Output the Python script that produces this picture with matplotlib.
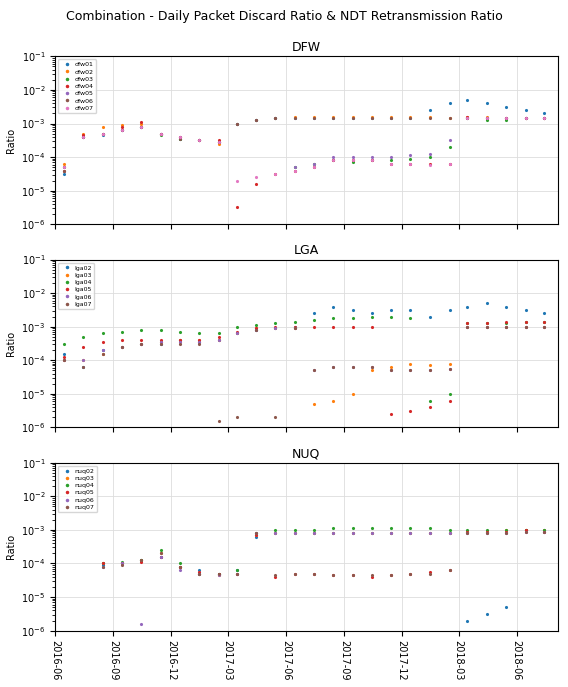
import numpy as np
import matplotlib.pyplot as plt
import matplotlib.dates as mdates
import datetime as dt

# one reading per month, Jun 2016 .. Aug 2018, stored as log10(ratio)
months = [dt.date(2016 + (5 + i) // 12, (5 + i) % 12 + 1, 15) for i in range(27)]
nan = np.nan

dfw01 = [-4.5,-3.4,-3.35,-3.2,-3.1,-3.3,-3.45,-3.5,-3.55,-3.0,-2.9,-2.85,-2.85,-2.85,-2.85,-2.85,-2.85,-2.85,-2.85,-2.6,-2.4,-2.3,-2.4,-2.5,-2.6,-2.7,-2.8]
dfw02 = [-4.2,-3.3,-3.1,-3.05,-3.0,-3.3,-3.4,-3.5,-3.6,-3.0,-2.9,-2.85,-2.8,-2.8,-2.8,-2.8,-2.8,-2.8,-2.8,-2.8,-2.85,-2.8,-2.8,-2.85,-2.85,-2.85,-2.85]
dfw03 = [-4.3,-3.4,-3.3,-3.2,-3.1,-3.35,-3.45,-3.5,-3.55,-3.0,-2.9,-2.85,-4.3,-4.2,-4.1,-4.15,-4.1,-4.1,-4.05,-4.0,-3.7,-2.85,-2.9,-2.9,-2.85,-2.85,-2.85]
dfw04 = [-4.4,-3.35,-3.3,-3.1,-2.95,-3.3,-3.4,-3.5,-3.5,-5.5,-4.8,-4.5,-4.4,-4.3,-4.1,-4.1,-4.1,-4.2,-4.2,-4.2,-4.2,-2.8,-2.85,-2.85,-2.85,-2.85,-2.85]
dfw05 = [-4.3,-3.4,-3.3,-3.2,-3.1,-3.3,-3.4,-3.5,-3.55,-3.0,-2.9,-2.85,-4.3,-4.2,-4.0,-4.0,-4.0,-4.0,-3.95,-3.9,-3.5,-2.85,-2.85,-2.85,-2.85,-2.85,-2.85]
dfw06 = [-4.4,-3.4,-3.3,-3.2,-3.1,-3.3,-3.45,-3.5,-3.55,-3.0,-2.9,-2.85,-2.85,-2.85,-2.85,-2.85,-2.85,-2.85,-2.85,-2.85,-2.85,-2.85,-2.85,-2.85,-2.85,-2.85,-2.8]
dfw07 = [-4.3,-3.4,-3.3,-3.2,-3.1,-3.3,-3.4,-3.5,-3.55,-4.7,-4.6,-4.5,-4.4,-4.3,-4.1,-4.1,-4.1,-4.2,-4.2,-4.25,-4.2,-2.85,-2.85,-2.85,-2.85,-2.85,-2.85]

lga02 = [-3.8,-4.2,-3.7,-3.6,-3.5,-3.5,-3.4,-3.45,-3.4,-3.2,-3.1,-3.05,-3.0,-2.6,-2.4,-2.5,-2.6,-2.5,-2.5,-2.7,-2.5,-2.4,-2.3,-2.4,-2.5,-2.6,-2.7]
lga03 = [-4.0,-4.0,-3.8,-3.6,-3.5,-3.45,-3.4,-3.4,-3.4,-3.2,-3.05,-3.05,-3.05,-5.3,-5.2,-5.0,-4.3,-4.2,-4.1,-4.15,-4.1,-3.0,-3.0,-3.0,-3.0,-3.0,-3.0]
lga04 = [-3.5,-3.3,-3.2,-3.15,-3.1,-3.1,-3.15,-3.2,-3.2,-3.0,-2.95,-2.9,-2.85,-2.8,-2.75,-2.75,-2.7,-2.7,-2.75,-5.2,-5.0,-2.9,-2.9,-2.9,-2.85,-2.85,-2.9]
lga05 = [-3.9,-3.6,-3.45,-3.4,-3.4,-3.4,-3.4,-3.4,-3.3,-3.15,-3.05,-3.0,-3.0,-3.0,-3.0,-3.0,-3.0,-5.6,-5.5,-5.4,-5.2,-2.9,-2.9,-2.85,-2.85,-2.85,-2.85]
lga06 = [-4.0,-4.0,-3.7,-3.6,-3.5,-3.45,-3.45,-3.45,-3.4,-3.2,-3.1,-3.05,-3.05,-4.3,-4.2,-4.2,-4.2,-4.3,-4.3,-4.3,-4.25,-3.0,-3.0,-3.0,-3.0,-3.0,-3.0]
lga07 = [-4.0,-4.2,-3.8,-3.6,-3.5,-3.5,-3.5,-3.5,-5.8,-5.7,-3.1,-5.7,-3.05,-4.3,-4.2,-4.2,-4.2,-4.3,-4.3,-4.3,-4.25,-3.0,-3.0,-3.0,-3.0,-3.0,-3.0]

nuq02 = [nan,nan,-4.05,-4.0,-3.9,-3.8,-4.1,-4.2,-4.3,-4.2,-3.2,-3.1,-3.1,-3.1,-3.1,-3.1,-3.1,-3.1,-3.1,-3.1,-3.1,-5.7,-5.5,-5.3,-3.0,-3.0,-3.2]
nuq03 = [nan,nan,-4.0,-4.0,-3.9,-3.7,-4.1,-4.3,-4.35,-4.3,-3.15,-3.1,-3.1,-3.1,-3.1,-3.1,-3.1,-3.1,-3.1,-3.1,-3.1,-3.05,-3.05,-3.0,-3.0,-3.0,-3.2]
nuq04 = [nan,nan,-4.0,-3.95,-3.9,-3.6,-4.0,-4.3,-4.3,-4.2,-3.1,-3.0,-3.0,-3.0,-2.95,-2.95,-2.95,-2.95,-2.95,-2.95,-3.0,-3.0,-3.0,-3.0,-3.0,-3.0,-3.2]
nuq05 = [nan,nan,-4.0,-4.0,-3.95,-3.8,-4.1,-4.25,-4.3,-4.3,-3.15,-4.4,-4.3,-4.3,-4.35,-4.35,-4.4,-4.35,-4.3,-4.25,-4.2,-3.05,-3.05,-3.05,-3.0,-3.05,-3.2]
nuq06 = [nan,nan,-4.1,-4.0,-5.8,-3.8,-4.2,-4.3,-4.35,-4.3,-3.1,-3.1,-3.1,-3.1,-3.1,-3.1,-3.1,-3.1,-3.1,-3.1,-3.1,-3.1,-3.1,-3.1,-3.05,-3.05,-3.25]
nuq07 = [nan,nan,-4.1,-4.05,-3.9,-3.7,-4.1,-4.3,-4.3,-4.3,-3.1,-4.35,-4.3,-4.3,-4.35,-4.35,-4.35,-4.35,-4.3,-4.3,-4.2,-3.1,-3.1,-3.1,-3.05,-3.05,-3.2]

sites = [
    ("DFW", [("dfw01", dfw01), ("dfw02", dfw02), ("dfw03", dfw03), ("dfw04", dfw04),
             ("dfw05", dfw05), ("dfw06", dfw06), ("dfw07", dfw07)]),
    ("LGA", [("lga02", lga02), ("lga03", lga03), ("lga04", lga04), ("lga05", lga05),
             ("lga06", lga06), ("lga07", lga07)]),
    ("NUQ", [("nuq02", nuq02), ("nuq03", nuq03), ("nuq04", nuq04), ("nuq05", nuq05),
             ("nuq06", nuq06), ("nuq07", nuq07)]),
]

fig, axes = plt.subplots(3, 1, figsize=(5.68, 6.87), dpi=100, sharex=True)
fig.subplots_adjust(left=0.097, right=0.982, top=0.918, bottom=0.082, hspace=0.21)
fig.suptitle("Combination - Daily Packet Discard Ratio & NDT Retransmission Ratio", fontsize=9, y=0.985)

for ax, (site, series) in zip(axes, sites):
    for name, vals in series:
        ax.plot(months, 10 ** np.array(vals), ".", markersize=2.5, label=name)
    ax.set_yscale("log")
    ax.set_ylim(1e-6, 1e-1)
    ax.set_title(site, fontsize=9, pad=4)
    ax.set_ylabel("Ratio", fontsize=7)
    ax.tick_params(labelsize=7)
    ax.grid(True, color="#dddddd", linewidth=0.6)
    ax.legend(loc="upper left", fontsize=4.5, markerscale=1.2, handletextpad=0.2,
              borderpad=0.4, labelspacing=0.3)

ax = axes[-1]
ax.set_xlim(dt.date(2016, 6, 1), dt.date(2018, 8, 5))
ax.xaxis.set_major_locator(mdates.MonthLocator(bymonth=[3, 6, 9, 12]))
ax.xaxis.set_major_formatter(mdates.DateFormatter("%Y-%m"))
for lbl in ax.get_xticklabels():
    lbl.set_rotation(270)
    lbl.set_ha("center")

plt.savefig("out.png")
